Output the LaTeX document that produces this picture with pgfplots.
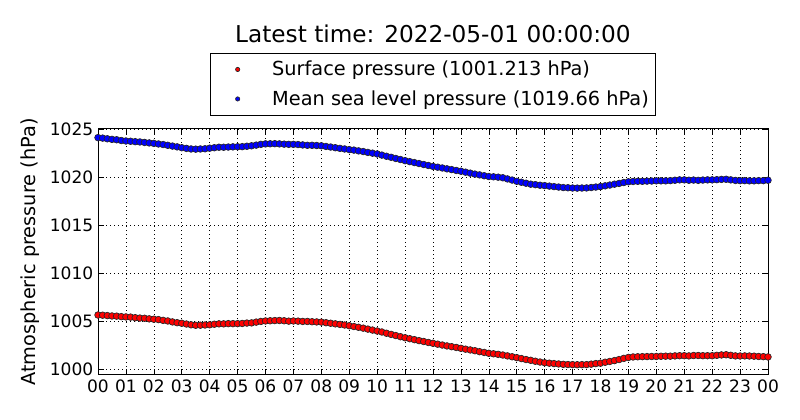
\documentclass[border=0pt]{standalone}
\usepackage{fontspec}
\setmainfont{DejaVu Sans}
\usepackage{pgfplots}
\pgfplotsset{compat=1.18}
\usepackage{pgfplotstable}

\pgfplotstableread{
t msl sp
0 1024.10 1005.62
10 1024.05 1005.60
20 1023.98 1005.56
30 1023.92 1005.52
40 1023.88 1005.50
50 1023.80 1005.45
60 1023.75 1005.42
70 1023.72 1005.40
80 1023.68 1005.34
90 1023.65 1005.30
100 1023.60 1005.28
110 1023.55 1005.22
120 1023.50 1005.18
130 1023.44 1005.14
140 1023.38 1005.06
150 1023.30 1005.00
160 1023.22 1004.90
170 1023.14 1004.82
180 1023.05 1004.76
190 1022.98 1004.68
200 1022.92 1004.60
210 1022.90 1004.55
220 1022.92 1004.56
230 1022.94 1004.58
240 1023.00 1004.60
250 1023.05 1004.66
260 1023.10 1004.70
270 1023.10 1004.70
280 1023.12 1004.72
290 1023.14 1004.72
300 1023.15 1004.72
310 1023.16 1004.74
320 1023.20 1004.78
330 1023.25 1004.80
340 1023.32 1004.88
350 1023.40 1004.95
360 1023.45 1005.00
370 1023.46 1005.02
380 1023.47 1005.04
390 1023.45 1005.05
400 1023.42 1005.02
410 1023.40 1004.98
420 1023.40 1005.00
430 1023.38 1004.98
440 1023.34 1004.95
450 1023.30 1004.95
460 1023.30 1004.92
470 1023.28 1004.90
480 1023.25 1004.88
490 1023.18 1004.82
500 1023.12 1004.76
510 1023.05 1004.70
520 1022.98 1004.64
530 1022.92 1004.58
540 1022.85 1004.50
550 1022.80 1004.42
560 1022.72 1004.34
570 1022.65 1004.25
580 1022.56 1004.15
590 1022.48 1004.05
600 1022.40 1003.95
610 1022.28 1003.85
620 1022.16 1003.72
630 1022.05 1003.60
640 1021.93 1003.48
650 1021.82 1003.36
660 1021.70 1003.25
670 1021.60 1003.15
680 1021.50 1003.05
690 1021.40 1002.95
700 1021.30 1002.86
710 1021.20 1002.76
720 1021.10 1002.67
730 1021.02 1002.58
740 1020.94 1002.49
750 1020.85 1002.40
760 1020.77 1002.32
770 1020.68 1002.24
780 1020.60 1002.15
790 1020.50 1002.06
800 1020.40 1001.98
810 1020.30 1001.90
820 1020.22 1001.80
830 1020.13 1001.72
840 1020.05 1001.63
850 1020.02 1001.58
860 1019.98 1001.52
870 1019.92 1001.45
880 1019.80 1001.36
890 1019.68 1001.27
900 1019.55 1001.18
910 1019.45 1001.08
920 1019.35 1000.98
930 1019.25 1000.90
940 1019.20 1000.80
950 1019.14 1000.72
960 1019.10 1000.65
970 1019.05 1000.60
980 1019.00 1000.56
990 1018.95 1000.52
1000 1018.90 1000.48
1010 1018.88 1000.46
1020 1018.85 1000.45
1030 1018.84 1000.44
1040 1018.85 1000.45
1050 1018.86 1000.45
1060 1018.90 1000.50
1070 1018.95 1000.56
1080 1019.00 1000.60
1090 1019.08 1000.70
1100 1019.16 1000.78
1110 1019.25 1000.87
1120 1019.33 1000.98
1130 1019.42 1001.10
1140 1019.50 1001.20
1150 1019.53 1001.25
1160 1019.55 1001.27
1170 1019.55 1001.28
1180 1019.57 1001.29
1190 1019.58 1001.30
1200 1019.60 1001.30
1210 1019.60 1001.32
1220 1019.60 1001.33
1230 1019.62 1001.33
1240 1019.66 1001.36
1250 1019.70 1001.38
1260 1019.70 1001.38
1270 1019.66 1001.36
1280 1019.68 1001.40
1290 1019.65 1001.40
1300 1019.68 1001.38
1310 1019.70 1001.38
1320 1019.70 1001.38
1330 1019.72 1001.42
1340 1019.75 1001.46
1350 1019.76 1001.48
1360 1019.70 1001.42
1370 1019.64 1001.36
1380 1019.62 1001.35
1390 1019.62 1001.36
1400 1019.60 1001.35
1410 1019.60 1001.33
1420 1019.62 1001.30
1430 1019.62 1001.28
1440 1019.66 1001.25
}\datatable

\begin{document}
\begin{tikzpicture}[x=1pt,y=1pt]
\useasboundingbox (0,0) rectangle (600,315);
\begin{axis}[
  at={(73.5pt,33.75pt)}, anchor=south west,
  width=502.5pt, height=184.5pt, scale only axis,
  xmin=0, xmax=1440, ymin=999.37, ymax=1025,
  xtick={0,60,...,1440},
  xticklabels={00,01,02,03,04,05,06,07,08,09,10,11,12,13,14,15,16,17,18,19,20,21,22,23,00},
  ytick={1000,1005,1010,1015,1020,1025},
  yticklabels={1000,1005,1010,1015,1020,1025},
  tick align=inside, xtick pos=both, ytick pos=both,
  major tick length=4.2pt,
  tick style={black, line width=0.5pt},
  grid=major,
  major grid style={black, line width=0.4pt, dash pattern=on 0.75pt off 2.25pt},
  axis line style={black, line width=0.75pt},
  ticklabel style={font=\fontsize{12.8}{15}\selectfont},
  ylabel={Atmospheric pressure (hPa)},
  ylabel style={font=\fontsize{14.5}{17}\selectfont, at={(axis description cs:-0.1015,0.5)}, anchor=center},
  title={Latest time: 2022-05-01 00:00:00},
  title style={font=\fontsize{17.4}{21}\selectfont, at={(axis description cs:0.5,1)}, anchor=base, yshift=58.5pt},
  legend style={at={(axis description cs:0.5,1)}, anchor=south, yshift=10pt,
    draw=black, line width=0.75pt, font=\fontsize{14.5}{17}\selectfont,
    inner xsep=5.25pt, inner ysep=5.9pt, row sep=9.6pt, column sep=24.3pt,
    nodes={inner sep=0pt}},
  legend cell align=left,
  legend image code/.code={\path (0pt,0pt); \draw[#1, mark size=1.6pt] plot coordinates {(15pt,0pt)};},
]
\addplot[only marks, mark=*, mark size=2.5pt, mark options={fill=red, draw=black!85, line width=0.5pt}] table[x=t,y=sp]{\datatable};
\addlegendentry{Surface pressure (1001.213 hPa)}
\addplot[only marks, mark=*, mark size=2.5pt, mark options={fill=blue, draw=black!85, line width=0.5pt}] table[x=t,y=msl]{\datatable};
\addlegendentry{Mean sea level pressure (1019.66 hPa)}
\end{axis}
\end{tikzpicture}
\end{document}
